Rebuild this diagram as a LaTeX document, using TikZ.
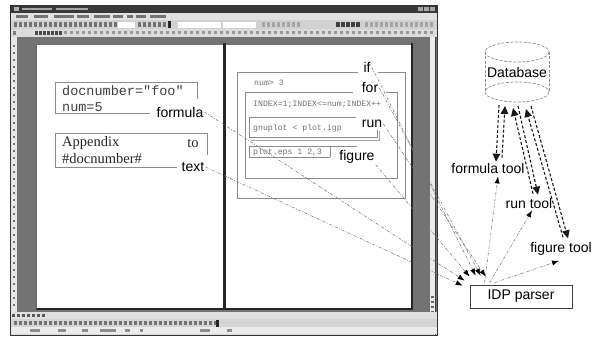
\documentclass[tikz,border=0pt]{standalone}
\usepackage{fontspec}
\setmainfont{Liberation Serif}
\setsansfont{Liberation Sans}
\setmonofont{Liberation Mono}
\usetikzlibrary{arrows.meta,calc}

\begin{document}
\begin{tikzpicture}[x=1pt,y=-1pt,
  lbl/.style={font=\sffamily\fontsize{14}{14}\selectfont, inner sep=1pt},
  bigcode/.style={font=\ttfamily\fontsize{13.5}{16}\selectfont, text=black!75, inner sep=0pt, anchor=west},
  serifdoc/.style={font=\rmfamily\fontsize{14.5}{16}\selectfont, text=black!85, inner sep=0pt},
  smallcode/.style={font=\ttfamily\fontsize{8.2}{10}\selectfont, text=black!55, inner sep=0pt, anchor=west},
  frame/.style={draw=black!45, line width=0.7pt},
  link/.style={draw=black!55, line width=0.5pt, dash pattern=on 3pt off 1.5pt on 0.8pt off 1.5pt,
               -{Latex[length=7pt,width=5pt,color=black]}},
  dbarrow/.style={draw=black!90, line width=1.1pt, dash pattern=on 3pt off 2pt,
               -{Triangle[length=8pt,width=7.5pt]}},
  icon/.style={fill=black!55},
  lighticon/.style={fill=black!35}]
\useasboundingbox (0,0) rectangle (598,337);
\fill[white] (0,0) rectangle (598,337);

% ---------- editor window ----------
\fill[black!15] (10,5) rectangle (437,335);
% title bar
\fill[black!78] (10,5) rectangle (437,13);
\fill[black!30] (14,7.3) rectangle (19,10.7);
\fill[black!35] (22,7.8) rectangle (52,10.3);
\fill[black!35] (56,7.8) rectangle (88,10.3);
\foreach \x in {418,424,430} \fill[black!35] (\x,7) rectangle ++(4.5,4);
% menu bar
\fill[black!12] (10,13) rectangle (437,20.5);
\foreach \a/\b in {16/28,34/48,54/74,77/89,94/110,113/123,127/133,136/146,150/166}
  \fill[black!55] (\a,15) rectangle (\b,18.5);
% standard toolbar
\fill[black!18] (10,20.5) rectangle (437,29.5);
\foreach \x in {14,19,...,114} \fill[icon] (\x,22.5) rectangle ++(3.2,4.5);
\fill[white] (118,22) rectangle (135,28);
\foreach \x in {138,143,...,163} \fill[icon] (\x,22.5) rectangle ++(3.2,4.5);
\fill[black!85] (168,21.5) rectangle (171,28.5);
\fill[white] (178,22) rectangle (221,28);
\fill[white] (223,22) rectangle (256,28);
\foreach \x in {262,267,...,300} \fill[lighticon] (\x,22.5) rectangle ++(3.2,4.5);
\foreach \x in {336,341,...,360} \fill[black!75] (\x,22.5) rectangle ++(3.5,4.5);
\foreach \x in {365,370,...,432} \fill[lighticon] (\x,22.5) rectangle ++(3.2,4.5);
% formatting bar
\fill[black!14] (10,29.5) rectangle (437,37);
\fill[black!50] (13,31) rectangle (16,35);
\foreach \x in {35,39,...,59} \fill[black!70] (\x,31) rectangle ++(3,4);
\foreach \x in {64,70,...,430} \fill[black!40] (\x,31.5) rectangle ++(2.5,3);

% workspace around the pages
\fill[black!55] (10,37) rectangle (437,312);
\fill[black!10] (10,37) rectangle (17,312);
\foreach \y in {45,52,...,305} \fill[black!55] (12.5,\y) rectangle ++(2,2);
\fill[black!8] (430,37) rectangle (436,312);
\foreach \y in {296,301,...,316} \fill[black!60] (431,\y) rectangle ++(3,2);

% two pages
\fill[white] (36,45) rectangle (412,308);
\draw[black!85, line width=2pt] (412,43) -- (412,309) -- (36,309);
\draw[black!60, line width=1pt] (36,45) -- (36,309);
\draw[black!85, line width=3pt] (224,43) -- (224,309);
\draw[black!75, line width=0.6pt] (435,37) -- (435,335);

% lower bars
\fill[black!12] (10,312) rectangle (437,319);
\foreach \x in {12,17,...,42} \fill[black!65] (\x,314) rectangle ++(3,3);
\fill[black!17] (10,319) rectangle (437,327);
\foreach \x in {14,19,...,214} \fill[icon] (\x,320.5) rectangle ++(3.2,4.5);
\fill[black!85] (216,320) rectangle (219,326.5);
\fill[black!8] (10,327) rectangle (437,334);
\foreach \a/\b in {30/40,58/66,82/88,100/116,125/130,140/143,200/210,227/232}
  \fill[black!45] (\a,329) rectangle (\b,332);
\draw[black!80, line width=0.8pt] (10,5) rectangle (437,335);

% ---------- left page ----------
\draw[frame] (150,113) -- (55,113) -- (55,82) -- (197,82) -- (197,99);
\node[bigcode] (cdoc) at (62,91) {docnumber="foo"};
\node[bigcode] (cnum) at (62,107) {num=5};
\node[lbl] (lformula) at (180,112) {formula};

\draw[frame] (177,167) -- (55,167) -- (55,133) -- (207,133) -- (207,155);
\node[serifdoc, anchor=west] (tapp) at (62,143) {Appendix};
\node[serifdoc] (tto) at (193,143) {to};
\node[serifdoc, anchor=west] (tdoc) at (62,159) {\#docnumber\#};
\node[lbl] (ltext) at (193,167) {text};

% ---------- right page ----------
% if block
\draw[frame] (358,72) -- (237,72) -- (237,198) -- (405,198) -- (405,72) -- (378,72);
\node[lbl] (lif) at (367,67) {if};
\node[smallcode] (cif) at (254,83) {num> 3};
% for block
\draw[frame] (353,92) -- (245,92) -- (245,178) -- (397,178) -- (397,92) -- (386,92);
\node[lbl] (lfor) at (370,88) {for};
\node[smallcode] (cfor) at (253,105) {INDEX=1;INDEX<=num;INDEX++};
% run block
\draw[frame] (356,117) -- (249,117) -- (249,137) -- (377,137) -- (377,130);
\draw[black!35, line width=0.5pt] (251,140) -- (379,140) -- (379,131);
\node[lbl] (lrun) at (372,124) {run};
\node[smallcode] (crun) at (253,128) {gnuplot < plot.igp};
% figure block
\draw[frame] (330,157) -- (249,157) -- (249,146) -- (357,146);
\draw[frame] (330,146) -- (330,157);
\node[lbl] (lfigure) at (357,157) {figure};
\node[smallcode] (cfig) at (253,152) {plot.eps 1 2,3};

% ---------- tool chain ----------
% database cylinder
\node[lbl] (db) at (517,72) {Database};
\begin{scope}[draw=black!45, line width=0.7pt, dash pattern=on 3pt off 1.5pt]
  \draw (517,52) ellipse [x radius=32, y radius=10];
  \draw (517,92) ellipse [x radius=32, y radius=10];
  \draw (485,52) -- (485,92);
  \draw (549,52) -- (549,92);
\end{scope}
\coordinate (dbb) at (517,102);

\node[lbl] (ftool) at (488,168) {formula tool};
\node[lbl] (rtool) at (529,203) {run tool};
\node[lbl] (gtool) at (561,249) {figure tool};
\node[lbl, draw=black!75, line width=0.7pt, minimum width=102pt, minimum height=23pt] (idp) at (521,296.5) {IDP parser};

% database exchanges
\draw[dbarrow] ($(dbb)+(-18,3)$) -- ($(ftool.north)+(8,0)$);
\draw[dbarrow] ($(ftool.north)+(14,-4)$) -- ($(dbb)+(-12,4)$);
\draw[dbarrow] ($(dbb)+(1,4)$) -- ($(rtool.north)+(9,-2)$);
\draw[dbarrow] ($(rtool.north)+(4,-3)$) -- ($(dbb)+(-4,6)$);
\draw[dbarrow] ($(dbb)+(14,4)$) -- ($(gtool.north)+(7,-3)$);
\draw[dbarrow] ($(gtool.north)+(2,-4)$) -- ($(dbb)+(9,7)$);

% parser calls the tools
\draw[link] ($(idp.north west)+(15,-2)$) -- ($(ftool.south)+(10,2)$);
\draw[link] ($(idp.north west)+(20,-2)$) -- ($(rtool.south)+(3,1)$);
\draw[link] ($(idp.north west)+(25,-2)$) -- ($(gtool.south)+(-2,4)$);

% markup handed to the parser
\coordinate (pt) at ($(idp.north west)+(-7,1)$);
\coordinate (pf) at ($(idp.north west)+(-5,-4)$);
\coordinate (pg) at ($(idp.north west)+(0,-8)$);
\coordinate (pi) at ($(idp.north west)+(6,-9)$);
\coordinate (po) at ($(idp.north west)+(11,-9)$);
\coordinate (pr) at ($(idp.north west)+(16,-8)$);
\draw[link] (lformula.east) -- (pf);
\draw[link] (ltext.east) -- (pt);
\draw[link] (lif.east) -- (pi);
\draw[link] (lfor.east) -- (po);
\draw[link] (lrun.east) -- (pr);
\draw[link] (lfigure.south east) -- (pg);
\end{tikzpicture}
\end{document}
